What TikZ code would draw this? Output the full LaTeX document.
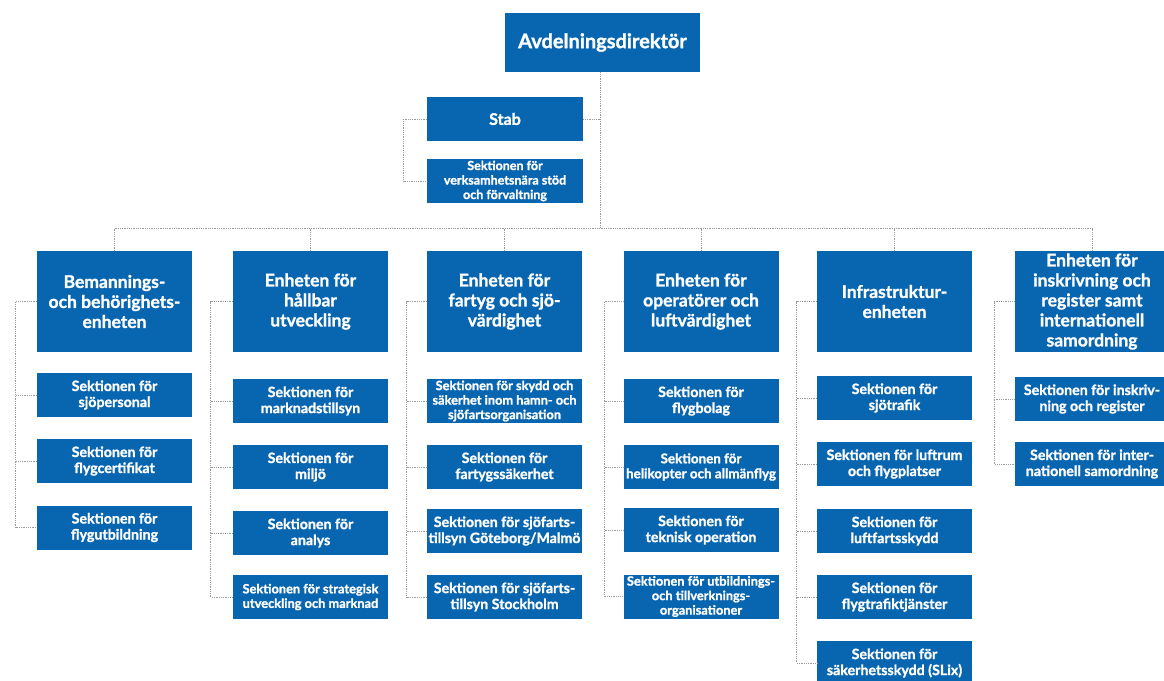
\documentclass[tikz,border=0pt]{standalone}
\usepackage{fontspec}
\setmainfont{Lato}[BoldFeatures={FakeBold=1.3}]
\usetikzlibrary{calc}
\definecolor{tvblue}{HTML}{0865B0}
\definecolor{conncol}{HTML}{9A9A9A}
\tikzset{
  box/.style={fill=tvblue, text=white, inner sep=0pt, align=center, font=\bfseries},
  topbox/.style={box, minimum width=195pt, minimum height=59pt, font=\bfseries\fontsize{20}{22}\selectfont},
  unitbox/.style={box, minimum width=155pt, minimum height=101pt, font=\bfseries\fontsize{17.5}{20}\selectfont},
  secbox/.style={box, minimum width=155pt, minimum height=44pt, font=\bfseries\fontsize{14.2}{16}\selectfont},
  smallsec/.style={secbox, font=\bfseries\fontsize{12.8}{14.5}\selectfont},
  tinysec/.style={secbox, font=\bfseries\fontsize{13.4}{15}\selectfont},
  conn/.style={draw=conncol, line width=0.7pt, dash pattern=on 0.7pt off 1.1pt}
}
\begin{document}
\begin{tikzpicture}[x=1pt,y=-1pt]
\useasboundingbox[fill=white] (0,0) rectangle (1164,680);

% top
\node[topbox] (dir) at (602.5,42.5) {Avdelningsdirektör};
\node[secbox, minimum width=156pt, font=\bfseries\fontsize{16}{18}\selectfont] (stab) at (505,119) {Stab};
\node[smallsec, minimum width=156pt, font=\bfseries\fontsize{12.5}{14.5}\selectfont] (stabsek) at (505,181) {Sektionen för\\verksamhetsnära stöd\\och förvaltning};

% units
\node[unitbox] (b1) at (114.5,301.5) {Bemannings-\\och behörighets-\\enheten};
\node[unitbox] (b2) at (310.5,301.5) {Enheten för\\hållbar\\utveckling};
\node[unitbox] (b3) at (504.5,301.5) {Enheten för\\fartyg och sjö-\\värdighet};
\node[unitbox] (b4) at (701,301.5) {Enheten för\\operatörer och\\luftvärdighet};
\node[unitbox] (b5) at (894.5,301.5) {Infrastruktur-\\enheten};
\node[unitbox] (b6) at (1092,301.5) {Enheten för\\inskrivning och\\register samt\\internationell\\samordning};

% column 1
\node[secbox] (s11) at (114.5,395) {Sektionen för\\sjöpersonal};
\node[secbox] (s12) at (114.5,461) {Sektionen för\\flygcertifikat};
\node[secbox] (s13) at (114.5,527.5) {Sektionen för\\flygutbildning};
% column 2
\node[secbox] (s21) at (310.5,401) {Sektionen för\\marknadstillsyn};
\node[secbox] (s22) at (310.5,467) {Sektionen för\\miljö};
\node[secbox] (s23) at (310.5,533) {Sektionen för\\analys};
\node[smallsec] (s24) at (310.5,597) {Sektionen för strategisk\\utveckling och marknad};
% column 3
\node[smallsec] (s31) at (504.5,401) {Sektionen för skydd och\\säkerhet inom hamn- och\\sjöfartsorganisation};
\node[secbox] (s32) at (504.5,467) {Sektionen för\\fartygssäkerhet};
\node[secbox] (s33) at (504.5,531) {Sektionen för sjöfarts-\\tillsyn Göteborg/Malmö};
\node[secbox] (s34) at (504.5,597) {Sektionen för sjöfarts-\\tillsyn Stockholm};
% column 4
\node[secbox] (s41) at (701,401) {Sektionen för\\flygbolag};
\node[tinysec] (s42) at (701,467) {Sektionen för\\helikopter och allmänflyg};
\node[secbox] (s43) at (701,530) {Sektionen för\\teknisk operation};
\node[smallsec] (s44) at (701,596.5) {Sektionen för utbildnings-\\och tillverknings-\\organisationer};
% column 5
\node[secbox] (s51) at (894.5,398) {Sektionen för\\sjötrafik};
\node[secbox] (s52) at (894.5,464) {Sektionen för luftrum\\och flygplatser};
\node[secbox] (s53) at (894.5,531) {Sektionen för\\luftfartsskydd};
\node[secbox] (s54) at (894.5,597) {Sektionen för\\flygtrafiktjänster};
\node[secbox] (s55) at (894.5,663) {Sektionen för\\säkerhetsskydd (SLix)};
% column 6
\node[secbox] (s61) at (1092,399) {Sektionen för inskriv-\\ning och register};
\node[secbox] (s62) at (1092,464) {Sektionen för inter-\\nationell samordning};

% connectors: top
\coordinate (busmid) at (600.5,228);
\draw[conn] (dir.south -| busmid) -- (busmid);
\draw[conn] (stab.east) -- (stab.east -| busmid);
\draw[conn] (stab.west) -- ++(-23,0) |- (stabsek.west);

% bus
\draw[conn] (b1.north |- busmid) -- (b6.north |- busmid);
\foreach \b in {b1,b2,b3,b4,b5,b6}{
  \draw[conn] (\b.north) -- (\b.north |- busmid);
}

% column brackets
\draw[conn] (b1.west) -- ++(-21,0) |- (s13.west);
\foreach \s in {s11,s12}{\draw[conn] (\s.west) -- ++(-21,0);}
\draw[conn] (b2.west) -- ++(-22,0) |- (s24.west);
\foreach \s in {s21,s22,s23}{\draw[conn] (\s.west) -- ++(-22,0);}
\draw[conn] (b3.west) -- ++(-20,0) |- (s34.west);
\foreach \s in {s31,s32,s33}{\draw[conn] (\s.west) -- ++(-20,0);}
\draw[conn] (b4.west) -- ++(-19,0) |- (s44.west);
\foreach \s in {s41,s42,s43}{\draw[conn] (\s.west) -- ++(-19,0);}
\draw[conn] (b5.west) -- ++(-20,0) |- (s55.west);
\foreach \s in {s51,s52,s53,s54}{\draw[conn] (\s.west) -- ++(-20,0);}
\draw[conn] (b6.west) -- ++(-20,0) |- (s62.west);
\draw[conn] (s61.west) -- ++(-20,0);
\end{tikzpicture}
\end{document}
